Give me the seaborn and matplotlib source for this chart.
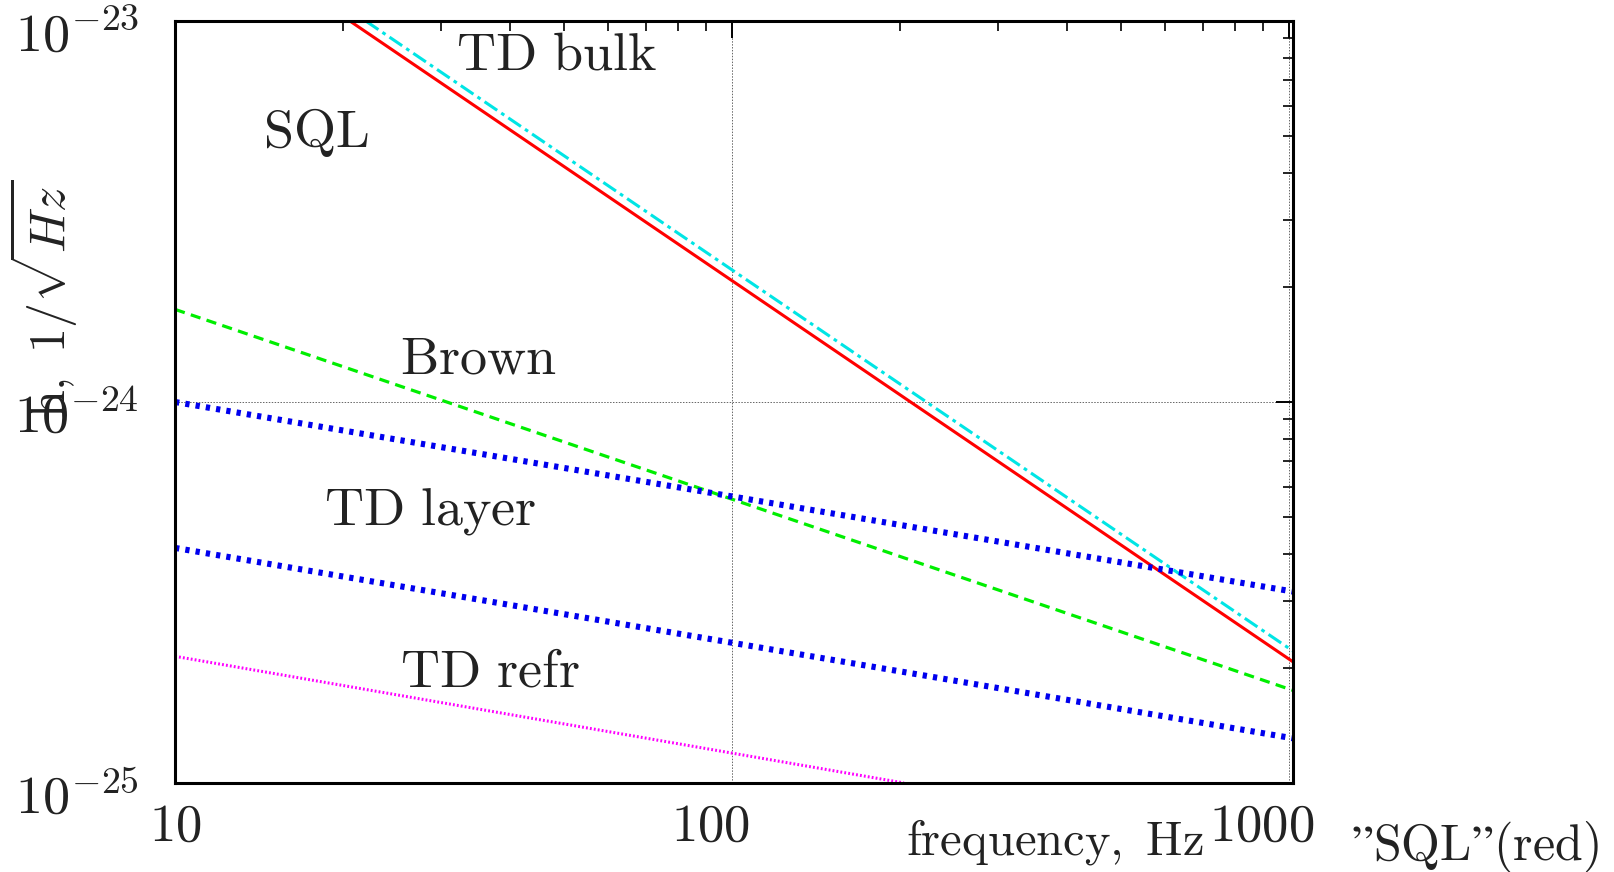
import numpy as np
import pandas as pd
import matplotlib
matplotlib.use("Agg")
import matplotlib.pyplot as plt
import matplotlib.ticker as mticker
import matplotlib.transforms as mtransforms
import seaborn as sns

# noise curves, values (endpoints of each power-law line)
sql_f = [20.6, 1017]
sql_h = [1.0e-23, 2.08e-25]
bulk_f = [22.0, 1017]
bulk_h = [1.0e-23, 2.22e-25]
brown_f = [10, 1017]
brown_h = [1.75e-24, 1.75e-25]
layer_f = [10, 1017]
layer_h = [1.0e-24, 3.18e-25]
layer2_f = [10, 1017]
layer2_h = [4.14e-25, 1.31e-25]
refr_f = [10, 203.6]
refr_h = [2.15e-25, 1.0e-25]

x_ticks = [10, 100, 1000]
x_ticklabels = [r"$10$", r"$100$", r"$1000$"]
y_ticks = [1e-25, 1e-24, 1e-23]
y_ticklabels = [r"$10^{-25}$", r"$10^{-24}$", r"$10^{-23}$"]

curve_labels = ["TD bulk", "SQL", "Brown", "TD layer", "TD refr"]

sns.set_theme(style="white")
plt.rcParams["mathtext.fontset"] = "cm"
plt.rcParams["font.family"] = ["DejaVu Serif"]

fig = plt.figure(figsize=(16.15, 8.72), dpi=100)
ax = fig.add_axes([0.1084, 0.1021, 0.6922, 0.8738])

series = [
    (sql_f, sql_h, dict(color="#ff0000", lw=2.2, linestyle="-")),
    (bulk_f, bulk_h, dict(color="#00e5e5", lw=2.2, linestyle=(0, (5, 1.6, 1.2, 1.6)))),
    (brown_f, brown_h, dict(color="#00ee00", lw=2.3, linestyle=(0, (3.2, 2.0)))),
    (layer_f, layer_h, dict(color="#0000ee", lw=4.4, linestyle=(0, (0.7, 1.0)))),
    (layer2_f, layer2_h, dict(color="#0000ee", lw=4.4, linestyle=(0, (0.7, 1.0)))),
    (refr_f, refr_h, dict(color="#ff00ff", lw=2.2, linestyle=(0, (0.6, 0.7)))),
]
for f, h, style in series:
    d = pd.DataFrame({"f": f, "h": h})
    sns.lineplot(data=d, x="f", y="h", ax=ax, **style)

ax.set_xscale("log")
ax.set_yscale("log")
ax.set_xlim(10, 1017)
ax.set_ylim(1e-25, 1e-23)
ax.set_xlabel("")
ax.set_ylabel("")

ax.xaxis.set_major_locator(mticker.FixedLocator(x_ticks))
ax.xaxis.set_major_formatter(mticker.FixedFormatter(x_ticklabels))
ax.yaxis.set_major_locator(mticker.FixedLocator(y_ticks))
ax.yaxis.set_major_formatter(mticker.FixedFormatter(y_ticklabels))
ax.xaxis.set_minor_locator(mticker.LogLocator(base=10, subs=np.arange(2, 10)))
ax.yaxis.set_minor_locator(mticker.LogLocator(base=10, subs=np.arange(2, 10)))
ax.xaxis.set_minor_formatter(mticker.NullFormatter())
ax.yaxis.set_minor_formatter(mticker.NullFormatter())

ax.tick_params(which="both", direction="in", top=True, right=True,
               colors="black", labelcolor="#222222")
ax.tick_params(which="major", length=12, width=1.4)
ax.tick_params(which="minor", length=7, width=1.2)
ax.tick_params(axis="x", which="major", pad=13, labelsize=38)
ax.tick_params(axis="y", which="major", pad=26, labelsize=39)
for sp in ax.spines.values():
    sp.set_color("black")
    sp.set_linewidth(2.2)

ax.grid(True, which="major", color="#666666", linestyle=(0, (1.5, 1.5)), linewidth=0.7)

# shift tick labels the way the original drawing places them
x_shifts = [0, -21, -27]
for lab, dx in zip(ax.get_xticklabels(), x_shifts):
    off = mtransforms.ScaledTranslation(dx / 100, 0, fig.dpi_scale_trans)
    lab.set_transform(lab.get_transform() + off)
for lab in ax.get_yticklabels():
    off = mtransforms.ScaledTranslation(0, -10 / 100, fig.dpi_scale_trans)
    lab.set_transform(lab.get_transform() + off)

label_pos = [(0.251, 0.937), (0.0787, 0.835), (0.201, 0.537), (0.133, 0.339), (0.201, 0.127)]
for txt, (x, y) in zip(curve_labels, label_pos):
    ax.text(x, y, r"$\mathrm{" + txt.replace(" ", r"\ ") + "}$", transform=ax.transAxes,
            fontsize=39, color="#222222", ha="left", va="baseline")

fig.text(0.0266, 0.657, r"$\mathrm{h},\ 1/\sqrt{Hz}$", rotation=90, fontsize=36,
         color="#222222", ha="center", va="center")
fig.text(0.561, 0.0195, r"$\mathrm{frequency,\ Hz}$", fontsize=35,
         color="#222222", ha="left", va="baseline")
fig.text(0.8366, 0.0138, "$\\mathrm{\u201dSQL\u201d(red)}$", fontsize=36,
         color="#222222", ha="left", va="baseline")

fig.savefig("out.png", dpi=100)
